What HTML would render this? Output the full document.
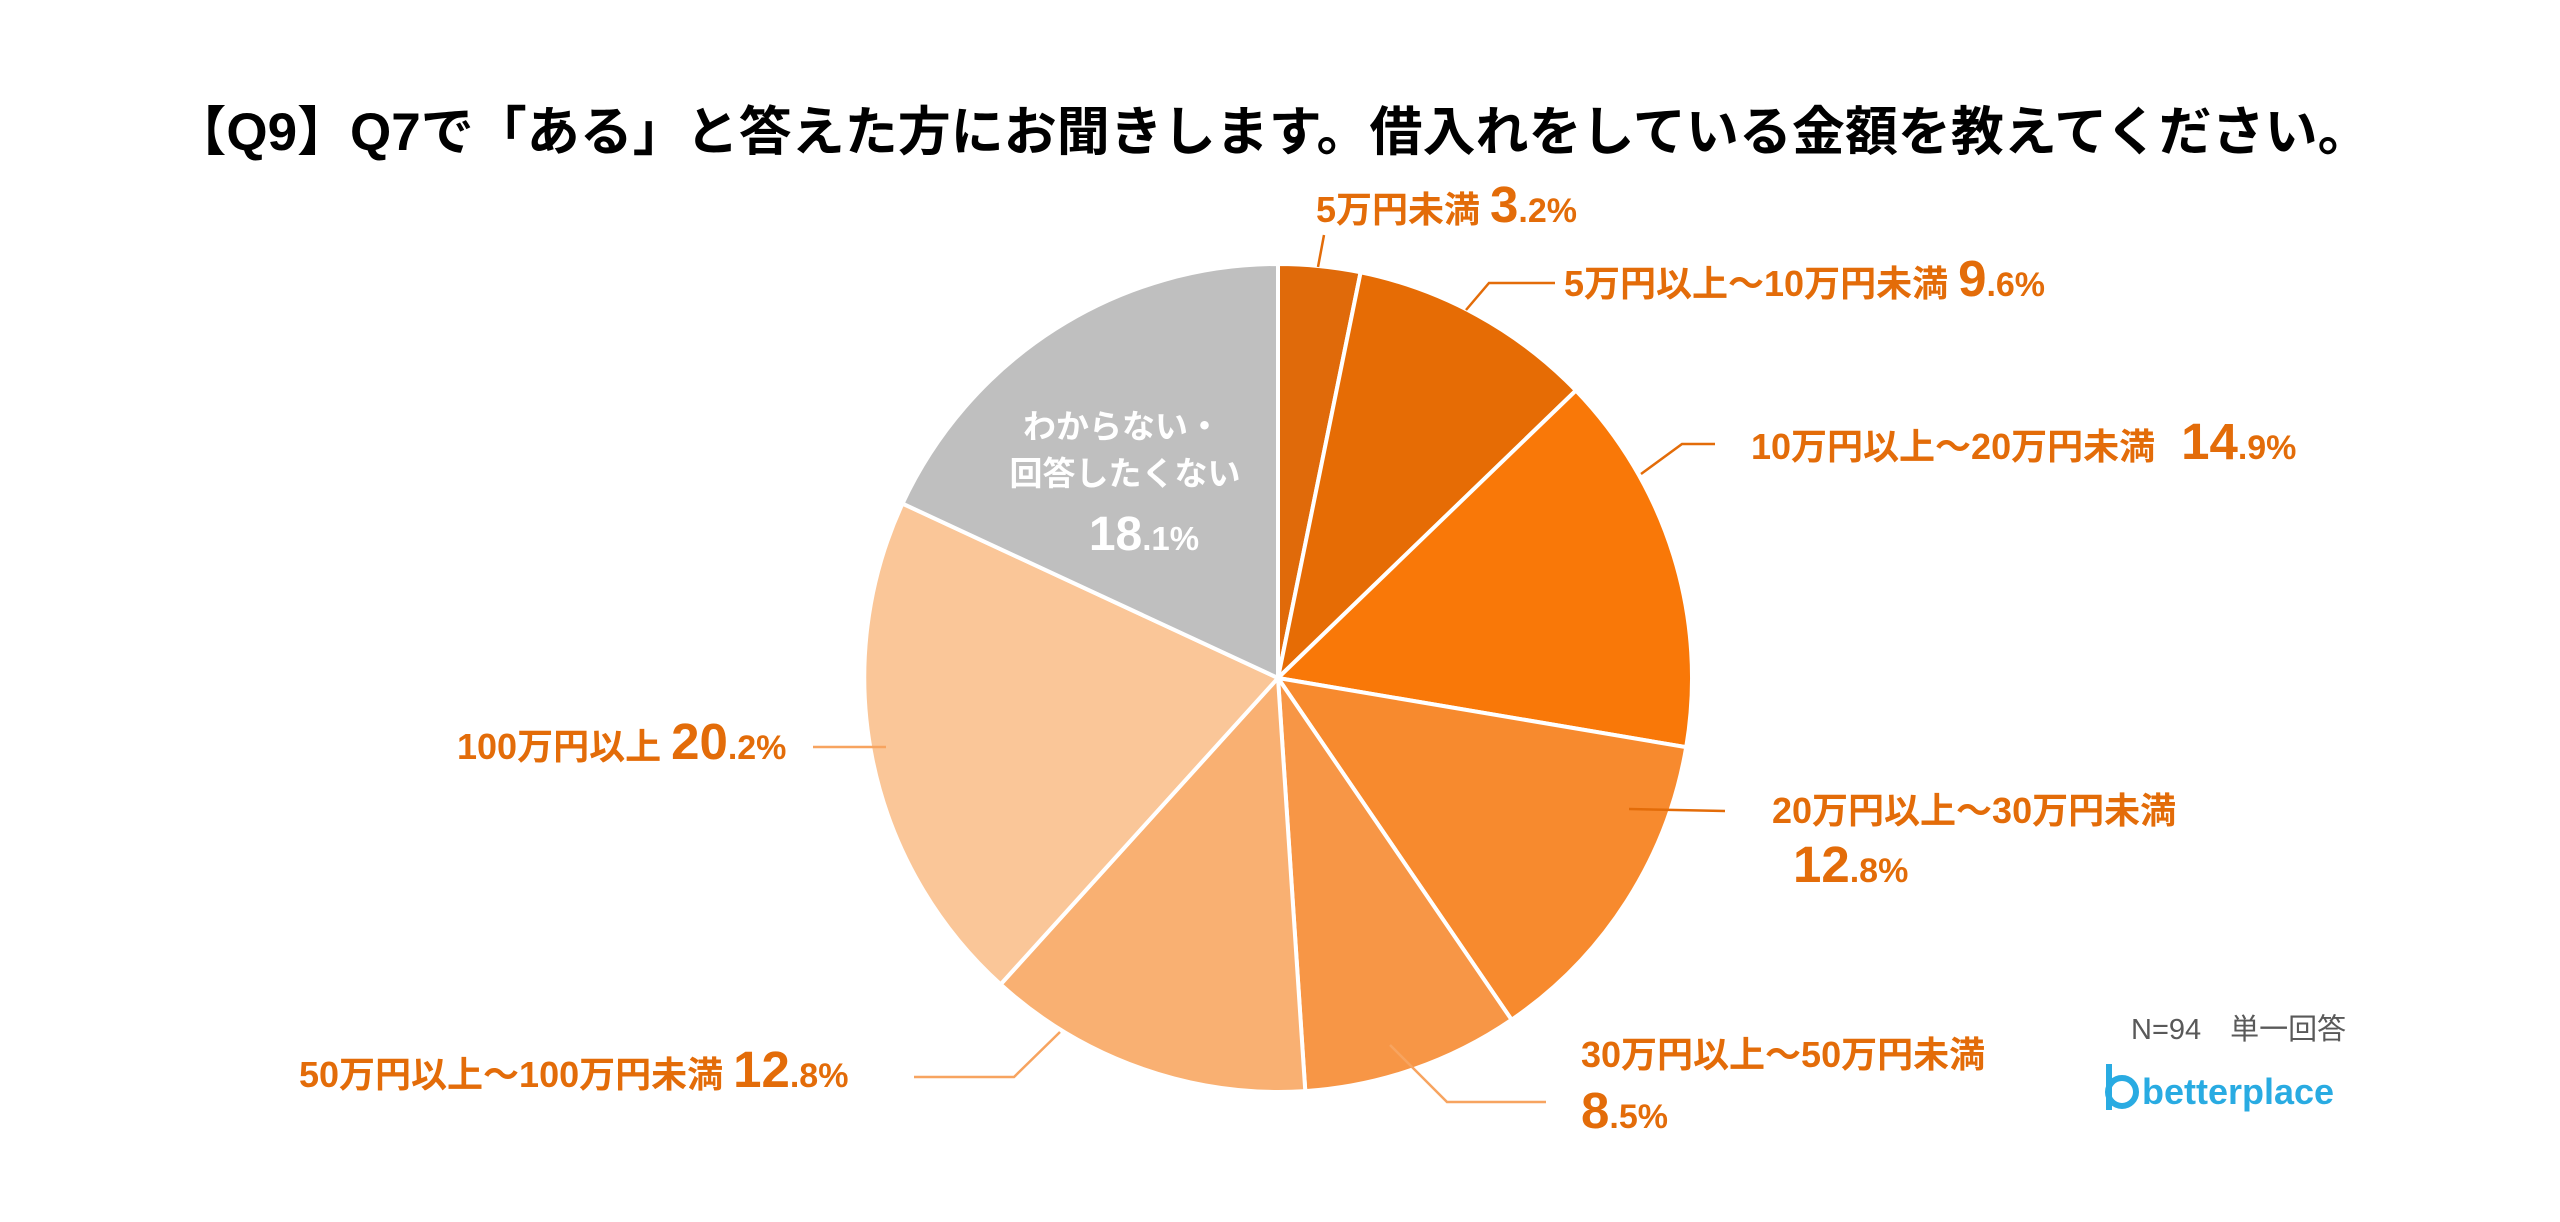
<!DOCTYPE html>
<html><head><meta charset="utf-8"><style>
html,body{margin:0;padding:0;background:#fff;}
svg{display:block}
text{font-family:"Liberation Sans","Noto Sans CJK JP",sans-serif;}
.l{fill:#E36C09;font-weight:bold;font-size:36px;}
.b{font-size:51px;}
.s{font-size:34px;}
</style></head><body>
<svg width="2560" height="1222" viewBox="0 0 2560 1222" xmlns="http://www.w3.org/2000/svg">
<rect width="2560" height="1222" fill="#fff"/>
<text x="1272" y="150" text-anchor="middle" font-size="53" font-weight="bold" fill="#000">【Q9】Q7で「ある」と答えた方にお聞きします。借入れをしている金額を教えてください。</text>
<g stroke="#fff" stroke-width="4">
<path d="M1278,678 L1278,264 A414,414 0 0 1 1360.6,272.3 Z" fill="#E06A0A"/>
<path d="M1278,678 L1360.6,272.3 A414,414 0 0 1 1575.9,390.5 Z" fill="#E66C05"/>
<path d="M1278,678 L1575.9,390.5 A414,414 0 0 1 1686.2,747.2 Z" fill="#F97808"/>
<path d="M1278,678 L1686.2,747.2 A414,414 0 0 1 1511.6,1019.8 Z" fill="#F78A2E"/>
<path d="M1278,678 L1511.6,1019.8 A414,414 0 0 1 1305.3,1091.1 Z" fill="#F79646"/>
<path d="M1278,678 L1305.3,1091.1 A414,414 0 0 1 1000.6,984.4 Z" fill="#F9B072"/>
<path d="M1278,678 L1000.6,984.4 A414,414 0 0 1 902.5,503.6 Z" fill="#FAC698"/>
<path d="M1278,678 L902.5,503.6 A414,414 0 0 1 1278,264 Z" fill="#BFBFBF"/>
</g>
<g fill="none" stroke="#E36C09" stroke-width="2.5">
<polyline points="1324,235 1318,267"/>
<polyline points="1466,310 1489,283 1555,283"/>
<polyline points="1641,474 1682,444 1715,444"/>
<polyline points="1629,809 1725,811"/>
</g>
<g fill="none" stroke="#F7A460" stroke-width="2.5">
<polyline points="1390,1045 1447,1102 1546,1102"/>
<polyline points="1060,1032 1014,1077 914,1077"/>
<polyline points="886,747 813,747"/>
</g>
<text class="l" x="1316" y="222">5万円未満 <tspan class="b">3</tspan><tspan class="s">.2%</tspan></text>
<text class="l" x="1564" y="296">5万円以上～10万円未満 <tspan class="b">9</tspan><tspan class="s">.6%</tspan></text>
<text class="l" x="1751" y="459">10万円以上～20万円未満 <tspan class="b" dx="16">14</tspan><tspan class="s">.9%</tspan></text>
<text class="l" x="1772" y="823">20万円以上～30万円未満</text>
<text class="l" x="1793" y="882"><tspan class="b">12</tspan><tspan class="s">.8%</tspan></text>
<text class="l" x="1581" y="1067">30万円以上～50万円未満</text>
<text class="l" x="1581" y="1128"><tspan class="b">8</tspan><tspan class="s">.5%</tspan></text>
<text class="l" x="299" y="1087">50万円以上～100万円未満 <tspan class="b">12</tspan><tspan class="s">.8%</tspan></text>
<text class="l" x="457" y="759">100万円以上 <tspan class="b">20</tspan><tspan class="s">.2%</tspan></text>
<g fill="#fff" font-weight="bold" text-anchor="middle">
<text x="1122" y="438" font-size="33">わからない・</text>
<text x="1125" y="485" font-size="33">回答したくない</text>
<text x="1144" y="550"><tspan font-size="48">18</tspan><tspan font-size="33">.1%</tspan></text>
</g>
<text x="2131" y="1039" font-size="29" fill="#595959">N=94　単一回答</text>
<g>
<circle cx="2122" cy="1092" r="14" fill="none" stroke="#29ABE2" stroke-width="6"/>
<rect x="2106" y="1064" width="6" height="46" fill="#29ABE2"/>
<text x="2142" y="1104" font-size="36" font-weight="bold" fill="#29ABE2">betterplace</text>
</g>
</svg>
</body></html>
